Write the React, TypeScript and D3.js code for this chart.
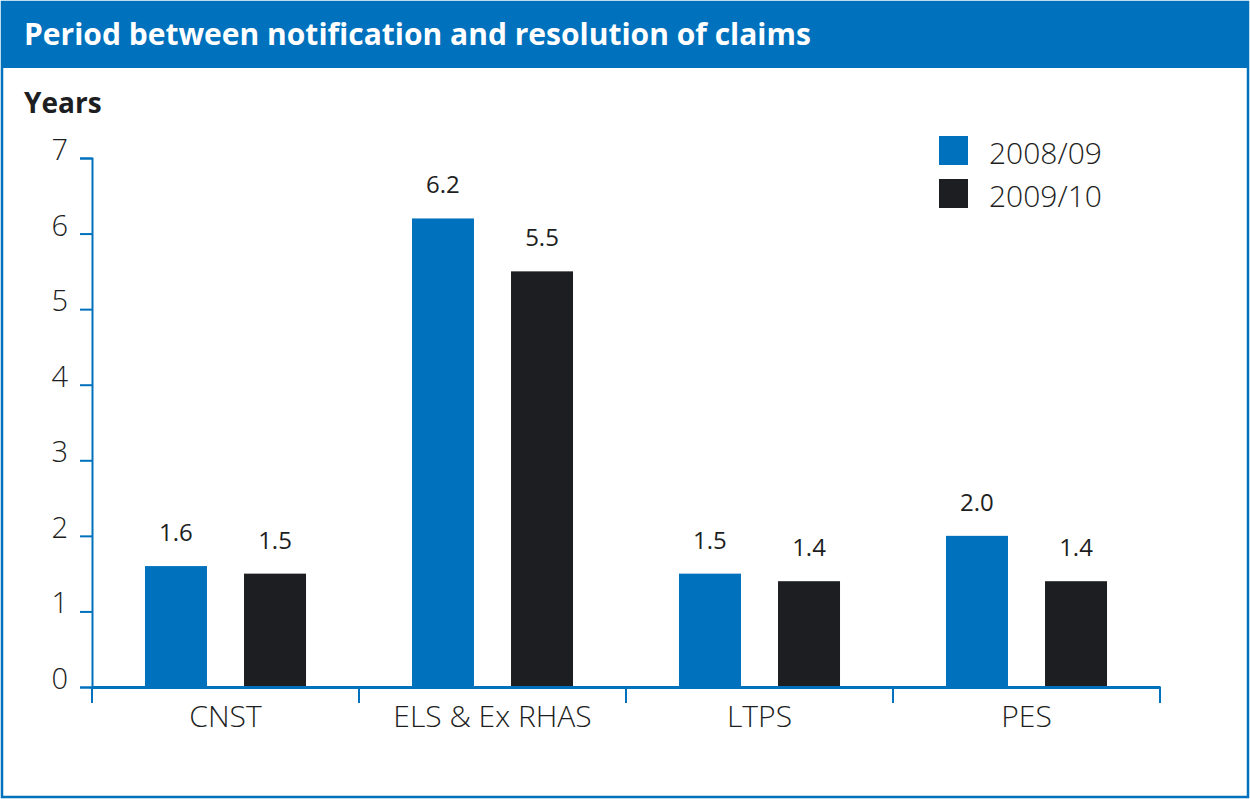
import React, { useEffect, useRef } from 'react';
import * as d3 from 'd3';

const categories = ['CNST', 'ELS & Ex RHAS', 'LTPS', 'PES'];
const series = ['2008/09', '2009/10'];
const values2008 = [1.6, 6.2, 1.5, 2.0];
const values2009 = [1.5, 5.5, 1.4, 1.4];
const yTicks = [0, 1, 2, 3, 4, 5, 6, 7];

const BLUE = '#0071bc';
const DARK = '#1d1e22';
const FONT = '"Open Sans", "Noto Sans", sans-serif';

const App = () => {
  const ref = useRef<SVGSVGElement>(null);

  useEffect(() => {
    const svg = d3.select(ref.current);
    svg.selectAll('*').remove();

    const width = 1250;
    const height = 799;
    const margin = { top: 158, right: 90, bottom: 112, left: 92 };

    // frame + title
    svg.append('rect')
      .attr('x', 2).attr('y', 2)
      .attr('width', width - 4).attr('height', height - 4)
      .attr('fill', '#fff')
      .attr('stroke', BLUE)
      .attr('stroke-width', 2.5);
    svg.append('rect')
      .attr('x', 1).attr('y', 1)
      .attr('width', width - 2).attr('height', 67)
      .attr('fill', BLUE);
    svg.append('text')
      .attr('x', 24).attr('y', 45)
      .attr('fill', '#fff')
      .attr('font-family', FONT)
      .attr('font-weight', 700)
      .attr('font-size', 30)
      .text('Period between notification and resolution of claims');
    svg.append('text')
      .attr('x', 24).attr('y', 113)
      .attr('fill', DARK)
      .attr('font-family', FONT)
      .attr('font-weight', 700)
      .attr('font-size', 28)
      .text('Years');

    const x = d3.scaleBand()
      .domain(categories)
      .range([margin.left, width - margin.right])
      .padding(0);
    const y = d3.scaleLinear()
      .domain([0, 7])
      .range([height - margin.bottom, margin.top]);
    const sub = d3.scaleBand()
      .domain(series)
      .range([0, x.bandwidth()])
      .paddingInner(0.374)
      .paddingOuter(0.535);

    // y axis
    const yAxis = svg.append('g')
      .attr('transform', `translate(${margin.left},0)`)
      .call(d3.axisLeft(y).tickValues(yTicks).tickSize(12).tickPadding(12).tickFormat(d3.format('d')));
    yAxis.select('.domain').attr('stroke', BLUE).attr('stroke-width', 2);
    yAxis.selectAll('.tick line').attr('stroke', BLUE).attr('stroke-width', 2);
    yAxis.selectAll('.tick text')
      .attr('fill', DARK)
      .attr('font-family', FONT)
      .attr('font-weight', 300)
      .attr('font-size', 29)
      .attr('dy', '0.05em');

    // bars
    const data = categories.map((c, i) => ({ c, vals: [values2008[i], values2009[i]] }));
    const groups = svg.append('g').selectAll('g')
      .data(data)
      .join('g')
      .attr('transform', d => `translate(${x(d.c)},0)`);
    groups.selectAll('rect')
      .data(d => d.vals.map((v, j) => ({ s: series[j], v })))
      .join('rect')
      .attr('x', d => sub(d.s)!)
      .attr('width', sub.bandwidth())
      .attr('y', d => y(d.v))
      .attr('height', d => y(0) - y(d.v))
      .attr('fill', d => (d.s === series[0] ? BLUE : DARK));
    groups.selectAll('text')
      .data(d => d.vals.map((v, j) => ({ s: series[j], v })))
      .join('text')
      .attr('x', d => sub(d.s)! + sub.bandwidth() / 2)
      .attr('y', d => y(d.v) - 25)
      .attr('text-anchor', 'middle')
      .attr('fill', DARK)
      .attr('font-family', FONT)
      .attr('font-size', 24)
      .text(d => d3.format('.1f')(d.v));

    // x axis
    const xAxis = svg.append('g')
      .attr('transform', `translate(0,${y(0)})`)
      .call(d3.axisBottom(x).tickSize(0).tickPadding(19));
    xAxis.select('.domain').attr('stroke', BLUE).attr('stroke-width', 3);
    xAxis.selectAll('.tick text')
      .attr('fill', DARK)
      .attr('font-family', FONT)
      .attr('font-weight', 300)
      .attr('font-size', 30);
    const bounds = categories.map(c => x(c)!).concat([x(categories[categories.length - 1])! + x.bandwidth()]);
    xAxis.selectAll('.sep')
      .data(bounds)
      .join('line')
      .attr('class', 'sep')
      .attr('x1', d => d).attr('x2', d => d)
      .attr('y1', 0).attr('y2', 16)
      .attr('stroke', BLUE)
      .attr('stroke-width', 2);

    // legend
    const legend = svg.append('g').attr('transform', 'translate(939,136)');
    const li = legend.selectAll('g')
      .data(series)
      .join('g')
      .attr('transform', (d, i) => `translate(0,${i * 43})`);
    li.append('rect')
      .attr('width', 29).attr('height', 29)
      .attr('fill', (d, i) => (i === 0 ? BLUE : DARK));
    li.append('text')
      .attr('x', 50).attr('y', 28)
      .attr('fill', DARK)
      .attr('font-family', FONT)
      .attr('font-weight', 300)
      .attr('font-size', 30)
      .text(d => d);
  }, []);

  return (
    <svg
      ref={ref}
      width={1250}
      height={799}
      style={{ position: 'absolute', left: 0, top: 0, display: 'block' }}
    ></svg>
  );
};

export default App;
